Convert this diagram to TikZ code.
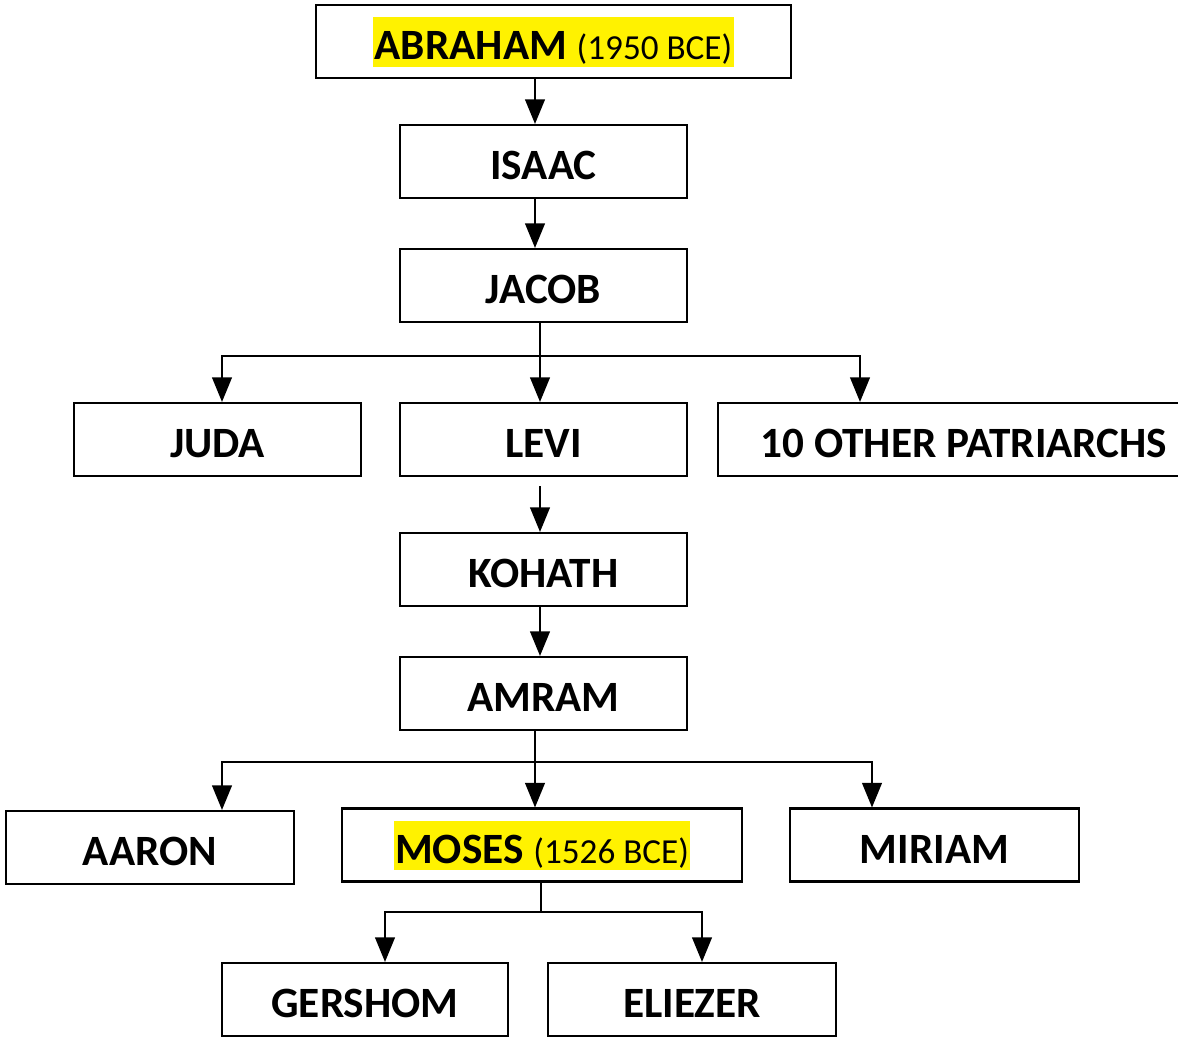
\documentclass[tikz,border=0pt]{standalone}
\usepackage{fontspec}
\setmainfont{Carlito}
\usetikzlibrary{arrows.meta}

\newcommand{\hilite}[1]{{\setlength{\fboxsep}{0.4pt}\colorbox{yellow}{\rule[-1.6pt]{0pt}{13.3pt}#1}}}
\newcommand{\yeartag}[1]{{\fontsize{10}{11}\selectfont\mdseries #1}}

\begin{document}
\begin{tikzpicture}[x=1cm, y=-1cm,
  person/.style={draw, line width=0.6pt, minimum width=2.87cm, minimum height=0.73cm,
    inner sep=0pt, text height=12pt, text depth=1.6pt,
    font=\fontsize{12.3}{14}\selectfont\bfseries},
  link/.style={line width=0.6pt, -{Triangle[width=5.6pt, length=7pt]}}]
\clip (0, 0) rectangle (11.78, 10.38);
\fill [white] (0, 0) rectangle (11.78, 10.38);
% the boxes
\node [person, minimum width=4.75cm] (abraham) at (5.535, 0.415) {\hilite{ABRAHAM \yeartag{(1950 BCE)}}};
\node [person] (isaac) at (5.435, 1.615) {ISAAC};
\node [person] (jacob) at (5.435, 2.855) {JACOB};
\node [person] (juda) at (2.175, 4.395) {JUDA};
\node [person] (levi) at (5.435, 4.395) {LEVI};
\node [person, minimum width=4.92cm] (others) at (9.64, 4.395) {10 OTHER PATRIARCHS};
\node [person] (kohath) at (5.435, 5.695) {KOHATH};
\node [person] (amram) at (5.435, 6.935) {AMRAM};
\node [person, minimum width=2.88cm] (aaron) at (1.50, 8.475) {AARON};
\node [person, minimum width=4.00cm] (moses) at (5.42, 8.45) {\hilite{MOSES \yeartag{(1526 BCE)}}};
\node [person, minimum width=2.89cm] (miriam) at (9.345, 8.45) {MIRIAM};
\node [person, minimum width=2.86cm] (gershom) at (3.65, 9.995) {GERSHOM};
\node [person, minimum width=2.88cm] (eliezer) at (6.92, 9.995) {ELIEZER};
% lines of descent
\coordinate (upper) at (5.35, 0);
\coordinate (middle) at (5.40, 0);
\coordinate (lower) at (5.41, 0);
\coordinate (leftline) at (2.22, 0);
\coordinate (othersline) at (8.60, 0);
\coordinate (miriamline) at (8.72, 0);
\coordinate (gershomline) at (3.85, 0);
\coordinate (eliezerline) at (7.02, 0);
\coordinate (jacobfork) at (5.40, 3.56);
\coordinate (amramfork) at (5.35, 7.62);
\coordinate (mosesfork) at (5.41, 9.12);
\draw [link] (abraham.south -| upper) -- (isaac.north -| upper);
\draw [link] (isaac.south -| upper) -- (jacob.north -| upper);
\draw [link] (jacob.south -| middle) -- (levi.north -| middle);
\draw [link] (jacobfork) -| (juda.north -| leftline);
\draw [link] (jacobfork) -| (others.north -| othersline);
\draw [link, shorten <=0.09cm] (levi.south -| middle) -- (kohath.north -| middle);
\draw [link] (kohath.south -| middle) -- (amram.north -| middle);
\draw [link] (amram.south -| upper) -- (moses.north -| upper);
\draw [link] (amramfork) -| (aaron.north -| leftline);
\draw [link] (amramfork) -| (miriam.north -| miriamline);
\draw [line width=0.6pt] (moses.south -| lower) -- (mosesfork);
\draw [link] (mosesfork) -| (gershom.north -| gershomline);
\draw [link] (mosesfork) -| (eliezer.north -| eliezerline);
\end{tikzpicture}
\end{document}
